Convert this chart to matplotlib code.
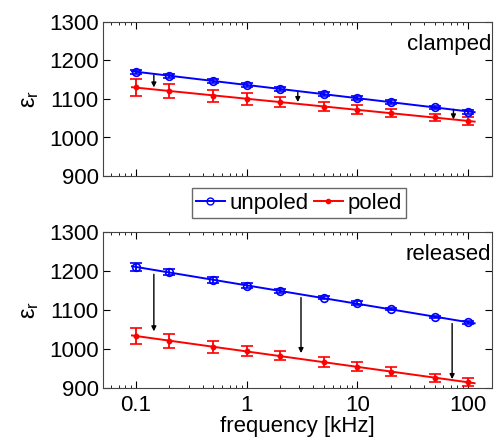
import numpy as np
import matplotlib
matplotlib.use("Agg")
import matplotlib.pyplot as plt

plt.rcParams['font.family'] = ['Liberation Sans', 'DejaVu Sans']

# --------- DATA ----------
freq = [0.1, 0.2, 0.5, 1, 2, 5, 10, 20, 50, 100]

clamped_unpoled = [1170, 1160, 1147, 1137, 1127, 1113, 1102, 1092, 1078, 1067]
clamped_unpoled_err = [5, 5, 5, 5, 5, 5, 5, 5, 5, 5]
clamped_poled = [1131, 1121, 1108, 1100, 1092, 1080, 1072, 1064, 1052, 1043]
clamped_poled_err = [22, 18, 16, 15, 14, 12, 12, 10, 10, 10]

released_unpoled = [1210, 1198, 1177, 1163, 1148, 1131, 1118, 1102, 1082, 1068]
released_unpoled_err = [10, 8, 7, 6, 5, 4, 4, 3, 3, 3]
released_poled = [1033, 1020, 1005, 994, 982, 966, 954, 941, 925, 914]
released_poled_err = [20, 17, 15, 13, 12, 12, 12, 11, 10, 10]

# arrows: (x, y_start, y_end)
clamped_arrows = [(0.145, 1162, 1130), (2.9, 1117, 1092), (74, 1073, 1047)]
released_arrows = [(0.145, 1192, 1045), (3.1, 1132, 989), (72, 1065, 922)]

fig = plt.figure(figsize=(4.94, 4.4), dpi=100)
ax1 = fig.add_axes([0.2079, 0.6, 0.788, 0.35])
ax2 = fig.add_axes([0.2079, 0.119, 0.788, 0.353])

FS = 16


def panel(ax, up, up_err, po, po_err, arrows, label):
    lx = np.log10(freq)
    xf = np.array([0.092, 115])
    for y, e, c, m in [(up, up_err, 'blue', 'o'), (po, po_err, 'red', '.')]:
        p = np.polyfit(lx, y, 1)
        ax.plot(xf, np.polyval(p, np.log10(xf)), color=c, lw=1.4)
        ax.errorbar(freq, y, yerr=e, fmt=m, color=c, mfc='none' if m == 'o' else c,
                    ms=5.5 if m == 'o' else 6, capsize=4, elinewidth=1.3, capthick=1.3, mew=1.2)
    for x, y0, y1 in arrows:
        ax.annotate('', xy=(x, y1), xytext=(x, y0),
                    arrowprops=dict(arrowstyle='-|>', color='black', lw=1.0,
                                    mutation_scale=7, shrinkA=0, shrinkB=0))
    ax.set_xscale('log')
    ax.set_xlim(0.05, 165)
    ax.set_ylim(900, 1300)
    ax.set_yticks([900, 1000, 1100, 1200, 1300])
    ax.tick_params(which='both', direction='in', top=True, right=True, labelsize=FS, pad=3)
    ax.tick_params(which='major', length=5)
    ax.tick_params(which='minor', length=2.5)
    ax.set_ylabel(r'$\mathregular{\varepsilon_r}$', fontsize=FS + 1, labelpad=6)
    ax.text(0.998, 0.855, label, transform=ax.transAxes, ha='right', va='center', fontsize=FS)
    for s in ax.spines.values():
        s.set_color('#444444')


panel(ax1, clamped_unpoled, clamped_unpoled_err, clamped_poled, clamped_poled_err,
      clamped_arrows, 'clamped')
panel(ax2, released_unpoled, released_unpoled_err, released_poled, released_poled_err,
      released_arrows, 'released')
ax1.tick_params(which='both', labelbottom=False)
ax2.set_xticks([0.1, 1, 10, 100])
ax2.set_xticklabels(['0.1', '1', '10', '100'])
ax2.tick_params(axis='x', pad=5)
ax2.set_xlabel('frequency [kHz]', fontsize=FS, labelpad=0)

h1, = ax1.plot([], [], '-o', color='blue', mfc='none', ms=5, lw=1.4)
h2, = ax1.plot([], [], '-', marker='.', color='red', ms=6, lw=1.4)
fig.legend([h1, h2], ['unpoled', 'poled'], loc='center', bbox_to_anchor=(0.605, 0.538),
           ncol=2, fontsize=FS, handlelength=1.3, handletextpad=0.2, columnspacing=0.25,
           frameon=True, fancybox=False, edgecolor='#444444', borderpad=0.2,
           borderaxespad=0)

fig.savefig('out.png', dpi=100)
